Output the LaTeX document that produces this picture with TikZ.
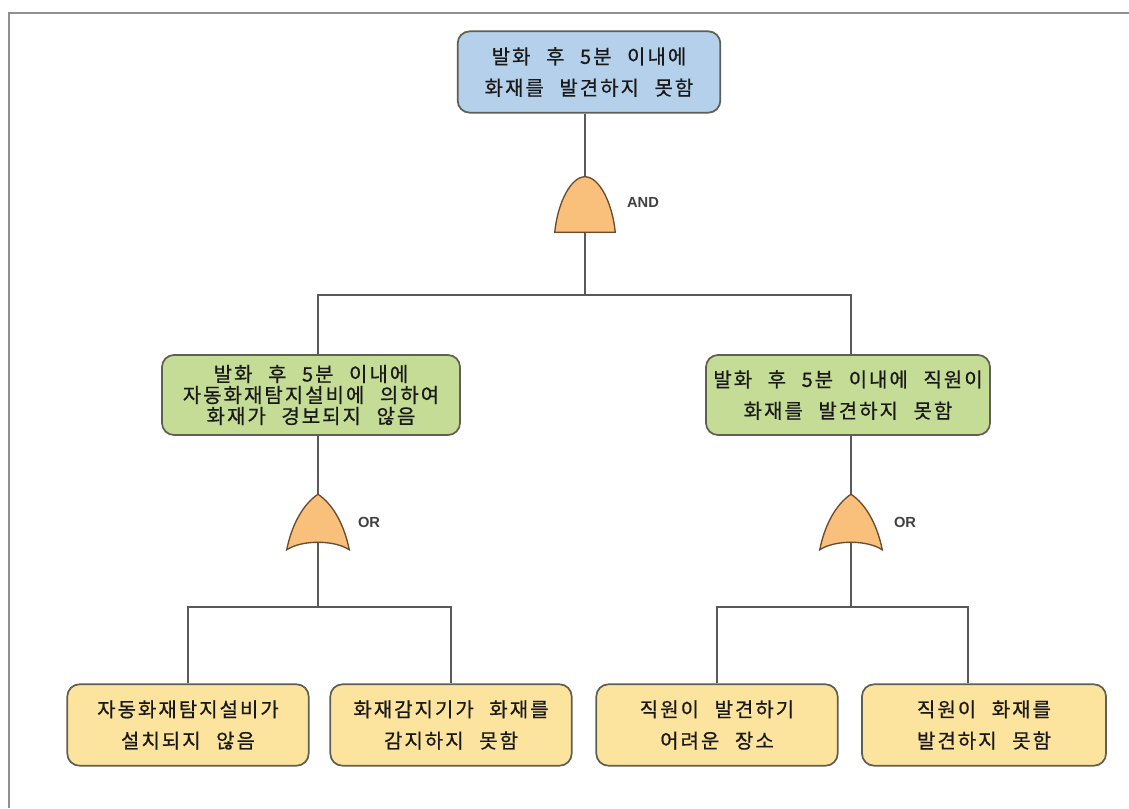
\documentclass[tikz,border=0pt]{standalone}
\usepackage{fontspec}
\setsansfont{Liberation Sans}
\newfontfamily\kr[WordSpace=2.4,LetterSpace=10,FakeBold=0.6]{Noto Sans CJK KR}
\usetikzlibrary{calc}

\definecolor{topblue}{HTML}{B4D0EA}
\definecolor{midgreen}{HTML}{C5DC96}
\definecolor{baseyellow}{HTML}{FCE49E}
\definecolor{gateorange}{HTML}{F9C07B}
\definecolor{evborder}{HTML}{5F5F55}
\definecolor{gateborder}{HTML}{6B4A2E}
\definecolor{framegray}{HTML}{909090}

\tikzset{
  event/.style={draw=evborder, line width=1.3pt, rounded corners=9pt, align=center,
    text=black!90, inner sep=1pt, font={\kr\fontsize{15}{23.5}\selectfont}},
  topev/.style={event, fill=topblue, minimum width=197pt, minimum height=61pt},
  midev/.style={event, fill=midgreen, minimum height=60pt},
  basic/.style={event, fill=baseyellow, minimum width=181pt, minimum height=61pt},
  gatebox/.style={inner sep=0pt, minimum height=41.25pt},
  gate/.style={draw=gateborder, fill=gateorange, line width=1pt},
  gatelabel/.style={font=\sffamily\bfseries\fontsize{11}{13}\selectfont, text=black!75},
  link/.style={draw=black!65, line width=0.9pt}
}

\begin{document}
\begin{tikzpicture}[x=0.75pt,y=-0.75pt]
  \useasboundingbox (0,0) rectangle (1129,808);
  \draw[framegray, line width=2.2pt] (1129,13) -- (9,13) -- (9,808);

  % events
  \node[topev] (top) at (589,72) {발화 후 5분 이내에\\화재를 발견하지 못함};
  \node[midev, minimum width=223.5pt, font={\kr\fontsize{15}{15.75}\selectfont}] (ml) at (311,395)
    {발화 후 5분 이내에\\자동화재탐지설비에 의하여\\화재가 경보되지 않음};
  \node[midev, minimum width=213pt] (mr) at (848,395) {발화 후 5분 이내에 직원이\\화재를 발견하지 못함};
  \node[basic] (b1) at (188,725) {자동화재탐지설비가\\설치되지 않음};
  \node[basic] (b2) at (451,725) {화재감지기가 화재를\\감지하지 못함};
  \node[basic] (b3) at (717,725) {직원이 발견하기\\어려운 장소};
  \node[basic, minimum width=183pt] (b4) at (984,725) {직원이 화재를\\발견하지 못함};

  % gates
  \node[gatebox, minimum width=45pt] (gAND) at (585,204.5) {};
  \node[gatebox, minimum width=46.5pt] (gOL) at (318,522) {};
  \node[gatebox, minimum width=46.5pt] (gOR) at (851,522) {};
  \node[gatelabel] (lAND) at (643,202) {AND};
  \node[gatelabel] (lOL) at (369,522) {OR};
  \node[gatelabel] (lOR) at (905,522) {OR};

  % connectors
  \draw[link] (gAND |- top.south) -- (gAND.center);
  \draw[link] (gAND.center) -- ++(0,90.5) coordinate (barA);
  \draw[link] (gOL |- ml.north) |- (barA) -| (gOR |- mr.north);
  \draw[link] (gOL |- ml.south) -- (gOL.center);
  \draw[link] (gOR |- mr.south) -- (gOR.center);
  \draw[link] (gOL.center) -- ++(0,85) coordinate (barL);
  \draw[link] (b1.north) |- (barL) -| (b2.north);
  \draw[link] (gOR.center) -- ++(0,85) coordinate (barR);
  \draw[link] (b3.north) |- (barR) -| ($(b4.north)+(-16,0)$);

  \draw[gate] (gAND.south west) .. controls ($(gAND.south west)+(3,-30)$) and ($(gAND.north)+(-14,0)$) .. (gAND.north)
    .. controls ($(gAND.north)+(14,0)$) and ($(gAND.south east)+(-3,-30)$) .. (gAND.south east) -- cycle;
  \foreach \g in {gOL,gOR}
    \draw[gate] (\g.south west) .. controls ($(\g.south west)+(5,-25)$) and ($(\g.north)+(-15,10)$) .. (\g.north)
      .. controls ($(\g.north)+(15,10)$) and ($(\g.south east)+(-5,-25)$) .. (\g.south east)
      .. controls ($(\g.south east)+(-15,-10)$) and ($(\g.south west)+(15,-10)$) .. (\g.south west) -- cycle;
\end{tikzpicture}
\end{document}
